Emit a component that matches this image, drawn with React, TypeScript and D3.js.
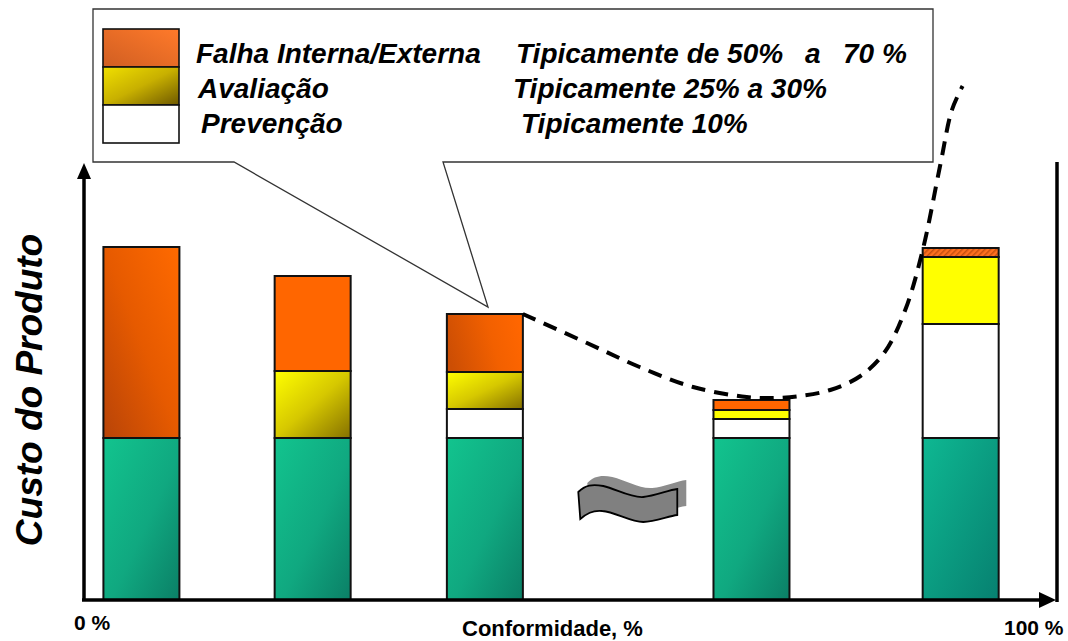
import React from "react";
import * as d3 from "d3";

// Stacked cost bars along the conformity axis (arbitrary cost units)
const conformity = [5.9, 23.5, 41.2, 68.6, 90.1];
const producao = [162, 162, 162, 162, 162];
const prevencao = [0, 0, 29, 19, 114];
const avaliacao = [0, 67, 37, 9, 67];
const falha = [191, 95, 58, 10, 9];

// Total cost trend (conformity %, cost)
const curveX = [45.1, 51.7, 57.1, 62.6, 68.1, 70.8, 73.6, 76.7, 79.8, 82.3, 84.4, 86.2, 88.0, 89.2, 90.3];
const curveY = [286, 257, 233, 213, 203, 202, 204, 210, 224, 248, 290, 350, 435, 490, 514];

const legendNames = ["Falha Interna/Externa", "Avaliação", "Prevenção"];
const axisLabels = ["0 %", "Conformidade, %", "100 %"];
const yTitle = "Custo do Produto";

const W = 1068;
const H = 641;
const FONT = "'Liberation Sans', Arial, Helvetica, sans-serif";

const x = d3.scaleLinear().domain([0, 100]).range([84, 1057]);
const y = d3.scaleLinear().domain([0, 440]).range([600, 160]);
const BAR_W = 76;

// per-bar fill styles
const fills = {
  producao: ["url(#gGreen)", "url(#gGreen)", "url(#gGreen)", "url(#gGreen)", "url(#gTeal)"],
  prevencao: ["#ffffff", "#ffffff", "#ffffff", "#ffffff", "#ffffff"],
  avaliacao: ["url(#gYellow)", "url(#gYellow)", "url(#gYellow)", "#ffff00", "#ffff00"],
  falha: ["url(#gOrangeDiag)", "#ff6600", "url(#gOrangeH)", "#ff6600", "url(#hatchOrange)"],
};

export default function App() {
  const segs: { key: string; i: number; y0: number; y1: number; fill: string }[] = [];
  conformity.forEach((c, i) => {
    let base = 0;
    const layers: [string, number[]][] = [
      ["producao", producao],
      ["prevencao", prevencao],
      ["avaliacao", avaliacao],
      ["falha", falha],
    ];
    layers.forEach(([k, arr]) => {
      const v = arr[i];
      if (v > 0) {
        segs.push({ key: k, i, y0: base, y1: base + v, fill: (fills as any)[k][i] });
      }
      base += v;
    });
  });

  const line = d3
    .line<number>()
    .x((_, i) => x(curveX[i]))
    .y((d) => y(d))
    .curve(d3.curveCatmullRom.alpha(0.5));
  const curvePath = line(curveY) || "";

  // wavy break marker
  const wave =
    "M0,1 C7,-6 14,-7 25,-5 C38,-2 52,7 65,6 C77,5 90,-1 99,-2 L99,24 C90,25 77,31 65,31 C52,31 37,21 24,20 C14,19 8,23 2,28 Z";
  const waveX = x(50.8);
  const waveY = y(109);

  const legendRows = [
    { y0: 29, fill: "url(#gLegendOrange)", name: legendNames[0], nx: 196, ny: 63 },
    { y0: 67, fill: "url(#gLegendYellow)", name: legendNames[1], nx: 198, ny: 98 },
    { y0: 105, fill: "#ffffff", name: legendNames[2], nx: 201, ny: 133 },
  ];

  const italicBold = { fontFamily: FONT, fontWeight: 700, fontStyle: "italic" as const };

  return (
    <svg
      width={W}
      height={H}
      viewBox={`0 0 ${W} ${H}`}
      style={{ position: "absolute", left: 0, top: 0, background: "#fff" }}
    >
      <defs>
        <linearGradient id="gGreen" x1="0" y1="0" x2="1" y2="1">
          <stop offset="0" stopColor="#12c48e" />
          <stop offset="0.55" stopColor="#10a880" />
          <stop offset="1" stopColor="#0b7f66" />
        </linearGradient>
        <linearGradient id="gTeal" x1="0" y1="0" x2="1" y2="1">
          <stop offset="0" stopColor="#0eb892" />
          <stop offset="1" stopColor="#078070" />
        </linearGradient>
        <linearGradient id="gYellow" x1="0" y1="0" x2="1" y2="1">
          <stop offset="0" stopColor="#ffff00" />
          <stop offset="0.5" stopColor="#d6c800" />
          <stop offset="1" stopColor="#857000" />
        </linearGradient>
        <linearGradient id="gOrangeDiag" x1="0" y1="1" x2="1" y2="0">
          <stop offset="0" stopColor="#b84408" />
          <stop offset="0.5" stopColor="#e65a00" />
          <stop offset="1" stopColor="#ff6a00" />
        </linearGradient>
        <linearGradient id="gOrangeH" x1="0" y1="0.6" x2="1" y2="0.4">
          <stop offset="0" stopColor="#cc4e04" />
          <stop offset="0.6" stopColor="#f26000" />
          <stop offset="1" stopColor="#ff6600" />
        </linearGradient>
        <linearGradient id="gLegendOrange" x1="0" y1="1" x2="1" y2="0">
          <stop offset="0" stopColor="#d05e22" />
          <stop offset="1" stopColor="#ff7a2a" />
        </linearGradient>
        <linearGradient id="gLegendYellow" x1="0" y1="0" x2="1" y2="1">
          <stop offset="0" stopColor="#f0e000" />
          <stop offset="0.5" stopColor="#c8b000" />
          <stop offset="1" stopColor="#6e5800" />
        </linearGradient>
        <pattern id="hatchOrange" width="4" height="4" patternUnits="userSpaceOnUse" patternTransform="rotate(45)">
          <rect width="4" height="4" fill="#ff7020" />
          <rect width="1.5" height="4" fill="#c85010" />
        </pattern>
      </defs>

      {/* callout legend box */}
      <path
        d={`M93,9 H933 V162 H443 L488,307 L234,162 H93 Z`}
        fill="#fff"
        stroke="#333"
        strokeWidth={1.3}
      />
      {legendRows.map((r, i) => (
        <g key={i}>
          <rect x={103} y={r.y0} width={76} height={38} fill={r.fill} stroke="#111" strokeWidth={1.6} />
          <text x={r.nx} y={r.ny} fontSize={28} {...italicBold} fill="#000">
            {r.name}
          </text>
        </g>
      ))}
      <text x={516} y={63} fontSize={28} {...italicBold}>Tipicamente de 50%</text>
      <text x={805} y={63} fontSize={28} {...italicBold}>a</text>
      <text x={843} y={63} fontSize={28} {...italicBold}>70 %</text>
      <text x={513} y={98} fontSize={28} {...italicBold}>Tipicamente 25% a 30%</text>
      <text x={521} y={133} fontSize={28} {...italicBold}>Tipicamente 10%</text>

      {/* bars */}
      {segs.map((s, k) => (
        <rect
          key={k}
          x={x(conformity[s.i]) - BAR_W / 2}
          y={y(s.y1)}
          width={BAR_W}
          height={y(s.y0) - y(s.y1)}
          fill={s.fill}
          stroke="#111"
          strokeWidth={2}
        />
      ))}

      {/* break marker */}
      <g transform={`translate(${waveX},${waveY})`}>
        <path d={wave} transform="translate(9,-9)" fill="#8c8c8c" />
        <path d={wave} fill="#808080" stroke="#000" strokeWidth={1.8} />
      </g>

      {/* total cost trend */}
      <path d={curvePath} fill="none" stroke="#000" strokeWidth={4} strokeDasharray="14 9" />

      {/* axes */}
      <line x1={x(0)} y1={y(0)} x2={x(0)} y2={176} stroke="#000" strokeWidth={3.5} />
      <path d={`M${x(0)},163 L${x(0) - 7},179 L${x(0) + 7},179 Z`} fill="#000" />
      <line x1={x(0) - 2} y1={y(0)} x2={1042} y2={y(0)} stroke="#000" strokeWidth={3.5} />
      <path d={`M1056,${y(0)} L1039,${y(0) - 8} L1039,${y(0) + 8} Z`} fill="#000" />
      <line x1={1057} y1={162} x2={1057} y2={y(0) + 2} stroke="#000" strokeWidth={3.5} />

      {/* axis labels */}
      <text x={74} y={630} fontSize={21} fontFamily={FONT} fontWeight={700}>{axisLabels[0]}</text>
      <text x={462} y={636} fontSize={22} fontFamily={FONT} fontWeight={700}>{axisLabels[1]}</text>
      <text x={1004} y={635} fontSize={21} fontFamily={FONT} fontWeight={700}>{axisLabels[2]}</text>
      <text
        transform="translate(42,390) rotate(-90)"
        textAnchor="middle"
        fontSize={37}
        {...italicBold}
      >
        {yTitle}
      </text>
    </svg>
  );
}
